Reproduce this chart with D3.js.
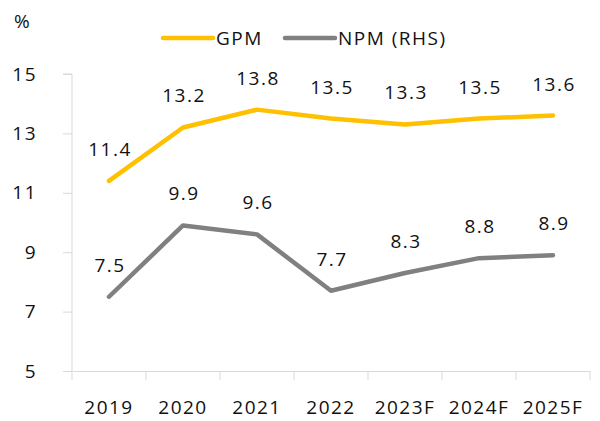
<!DOCTYPE html>
<html>
<head>
<meta charset="utf-8">
<script src="https://cdn.jsdelivr.net/npm/d3@7"></script>
<style>
  body { margin: 0; background: #fff; }
  svg { display: block; }
  text { font-family: "Open Sans", sans-serif; font-size: 19px; letter-spacing: 1.5px; fill: #111; }
</style>
</head>
<body>
<svg id="chart"></svg>
<script>
var years = ['2019', '2020', '2021', '2022', '2023F', '2024F', '2025F'];
var gpm = [11.4, 13.2, 13.8, 13.5, 13.3, 13.5, 13.6];
var npm = [7.5, 9.9, 9.6, 7.7, 8.3, 8.8, 8.9];
var yTicks = [5, 7, 9, 11, 13, 15];

var series = [
  {name: 'GPM', values: gpm, color: '#FFC000'},
  {name: 'NPM (RHS)', values: npm, color: '#808080'}
];

var width = 600, height = 421;
var svg = d3.select('#chart').attr('width', width).attr('height', height);

var x = d3.scaleBand().domain(years).range([72, 590]);
var y = d3.scaleLinear().domain([5, 15]).range([371, 74]);

// y axis
var yAxis = svg.append('g')
  .attr('transform', 'translate(72,0)')
  .call(d3.axisLeft(y).tickValues(yTicks).tickSize(9).tickPadding(26).tickFormat(d3.format('d')));
yAxis.select('.domain').attr('stroke', '#d9d9d9').attr('d', 'M-9,74H0V371');
yAxis.selectAll('.tick line').attr('stroke', '#d9d9d9');
yAxis.selectAll('text').style('font-size', '19px').attr('fill', '#111').attr('font-family', null);

// x axis
var xAxis = svg.append('g')
  .attr('transform', 'translate(0,371)')
  .call(d3.axisBottom(x).tickSize(0).tickPadding(30));
xAxis.select('.domain').attr('stroke', '#d9d9d9');
xAxis.selectAll('text').style('font-size', '19px').attr('fill', '#111').attr('font-family', null);
xAxis.selectAll('.sep')
  .data(years.concat(['end']))
  .enter().append('line')
    .attr('x1', function(d, i){ return i < years.length ? x(d) : x.range()[1]; })
    .attr('x2', function(d, i){ return i < years.length ? x(d) : x.range()[1]; })
    .attr('y1', 0).attr('y2', 9)
    .attr('stroke', '#d9d9d9');

// % label
svg.append('text').attr('x', 14).attr('y', 28).text('%');

var line = d3.line()
  .x(function(d, i){ return x(years[i]) + x.bandwidth() / 2; })
  .y(function(d){ return y(d); });

series.forEach(function(s){
  svg.append('path')
    .datum(s.values)
    .attr('d', line)
    .attr('fill', 'none')
    .attr('stroke', s.color)
    .attr('stroke-width', 4.5)
    .attr('stroke-linejoin', 'round')
    .attr('stroke-linecap', 'round');

  svg.selectAll(null)
    .data(s.values)
    .enter().append('text')
      .attr('x', function(d, i){ return x(years[i]) + x.bandwidth() / 2 + 1; })
      .attr('y', function(d){ return y(d) - 25; })
      .attr('text-anchor', 'middle')
      .text(function(d){ return d.toFixed(1); });
});

// legend
var legend = svg.append('g');
var legX = [163, 285];
series.forEach(function(s, i){
  legend.append('line')
    .attr('x1', legX[i]).attr('x2', legX[i] + 50)
    .attr('y1', 38).attr('y2', 38)
    .attr('stroke', s.color).attr('stroke-width', 4.5).attr('stroke-linecap', 'round');
  legend.append('text')
    .attr('x', legX[i] + 53).attr('y', 45)
    .text(s.name);
});
</script>
</body>
</html>
